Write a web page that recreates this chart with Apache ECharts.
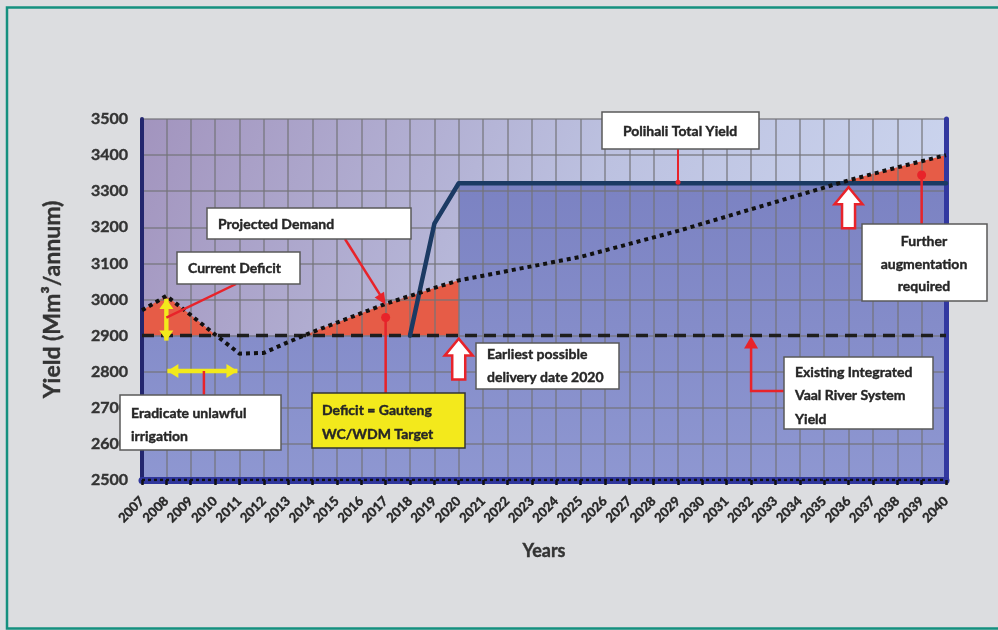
<!DOCTYPE html>
<html>
<head>
<meta charset="utf-8">
<script src="https://cdn.jsdelivr.net/npm/echarts@6/dist/echarts.min.js"></script>
<style>
  html, body { margin: 0; padding: 0; background: #dcdde0; }
  #chart { width: 998px; height: 630px; }
</style>
</head>
<body>
<div id="chart"></div>
<script>
// Years on the horizontal axis
const years = ['2007','2008','2009','2010','2011','2012','2013','2014','2015','2016','2017',
  '2018','2019','2020','2021','2022','2023','2024','2025','2026','2027','2028','2029','2030',
  '2031','2032','2033','2034','2035','2036','2037','2038','2039','2040'];

// Projected water demand (Mm3/annum), one value per year
const demand = [2970, 3010, 2957, 2903, 2850, 2852, 2882, 2910, 2936, 2962, 2988,
  3010, 3032, 3053, 3066, 3079, 3092, 3105, 3118, 3136, 3154, 3172, 3190, 3210,
  3230, 3250, 3270, 3290, 3310, 3330, 3348, 3366, 3383, 3400];

// Existing Integrated Vaal River System yield
const existingYears = ['2007', '2040'];
const existingYield = [2900, 2900];

// Polihali total yield (phased in from 2018)
const polihaliYears = ['2018', '2019', '2020', '2040'];
const polihaliYield = [2900, 3210, 3322, 3322];

// Available supply used for the shaded band (steps up when Polihali delivers)
const supplyYears = ['2007', '2020', '2020', '2040'];
const supplyYield = [2900, 2900, 3322, 3322];

// Vertical axis range
const yMin = 2500, yMax = 3500, yStep = 100;

const pairs = (xs, ys) => xs.map((x, i) => [x, ys[i]]);
const FONT = 'Lato, "Open Sans", sans-serif';
const INK = '#262626';

const chart = echarts.init(document.getElementById('chart'), null, { renderer: 'canvas' });

const option = {
  animation: false,
  backgroundColor: '#dcdde0',
  grid: {
    left: 142, right: 52, top: 119, bottom: 150,
    show: true, borderWidth: 0,
    backgroundColor: new echarts.graphic.LinearGradient(0, 0, 1, 1, [
      { offset: 0, color: '#a294be' },
      { offset: 0.5, color: '#bcc1e0' },
      { offset: 1, color: '#d0dbf3' }
    ])
  },
  xAxis: {
    type: 'category',
    data: years,
    boundaryGap: false,
    z: 2,
    name: 'Years',
    nameLocation: 'middle',
    nameGap: 62,
    nameTextStyle: { fontFamily: FONT, fontWeight: 'bold', fontSize: 18, color: '#333',
      textBorderColor: '#333', textBorderWidth: 0.4 },
    axisLine: { show: true, lineStyle: { color: '#2f369c', width: 7 } },
    axisTick: { show: true, length: 5, lineStyle: { color: '#111', width: 2.5 } },
    axisLabel: {
      rotate: 45, interval: 0, margin: 19,
      fontFamily: FONT, fontWeight: 'bold', fontSize: 13, color: INK,
      textBorderColor: INK, textBorderWidth: 0.4
    },
    splitLine: { show: true, interval: 0, lineStyle: { color: 'rgba(115,115,120,0.6)', width: 2 } }
  },
  yAxis: [{
    type: 'value',
    min: yMin, max: yMax, interval: yStep,
    z: 2,
    name: 'Yield (Mm³/annum)',
    nameLocation: 'middle',
    nameGap: 78,
    nameTextStyle: { fontFamily: FONT, fontWeight: 'bold', fontSize: 23, color: '#333',
      textBorderColor: '#333', textBorderWidth: 0.4 },
    axisLine: { show: true, lineStyle: { color: '#23266e', width: 4 } },
    axisTick: { show: false },
    axisLabel: {
      margin: 14, fontFamily: FONT, fontWeight: 'bold', fontSize: 16, color: '#333',
      textBorderColor: '#333', textBorderWidth: 0.4,
      formatter: v => String(v)
    },
    splitLine: { show: true, lineStyle: { color: 'rgba(115,115,120,0.6)', width: 2 } }
  }, {
    type: 'value',
    position: 'right',
    min: yMin, max: yMax, interval: yStep,
    z: 2,
    axisLine: { show: true, lineStyle: { color: '#3238a0', width: 5 } },
    axisTick: { show: false },
    axisLabel: { show: false },
    splitLine: { show: false }
  }],
  series: [
    {
      // deficit shading: filled under the demand curve, then covered by supply band
      name: 'Deficit',
      type: 'line',
      data: demand,
      showSymbol: false,
      z: 1,
      lineStyle: { width: 0 },
      areaStyle: { color: '#e65c47', opacity: 1, origin: 'start' }
    },
    {
      name: 'Supply',
      type: 'line',
      data: pairs(supplyYears, supplyYield),
      showSymbol: false,
      z: 1,
      lineStyle: { width: 0 },
      areaStyle: {
        opacity: 1, origin: 'start',
        color: new echarts.graphic.LinearGradient(0, 0, 0, 1, [
          { offset: 0, color: '#7b82c2' },
          { offset: 1, color: '#8e97d1' }
        ])
      }
    },
    {
      name: 'Axis base',
      type: 'line',
      data: pairs(existingYears, [yMin, yMin]),
      showSymbol: false,
      z: 5,
      lineStyle: { color: '#111', width: 2.5, type: [3, 3] }
    },
    {
      name: 'Existing Integrated Vaal River System Yield',
      type: 'line',
      data: pairs(existingYears, existingYield),
      showSymbol: false,
      z: 5,
      lineStyle: { color: '#1e1e1e', width: 3.5, type: [12, 7] }
    },
    {
      name: 'Polihali Total Yield',
      type: 'line',
      data: pairs(polihaliYears, polihaliYield),
      showSymbol: false,
      z: 6,
      lineStyle: { color: '#1b3a63', width: 4.5, cap: 'round', join: 'round' }
    },
    {
      name: 'Projected Demand',
      type: 'line',
      data: demand,
      showSymbol: false,
      z: 7,
      lineStyle: { color: '#111', width: 4, type: [4, 4] }
    }
  ]
};

chart.setOption(option);

// ---- callouts -----------------------------------------------------------
const P = (yr, v) => chart.convertToPixel({ gridIndex: 0 }, [years.indexOf(String(yr)), v]);
const demandAt = yr => demand[years.indexOf(String(yr))];
const RED = '#e8232a';
const YEL = '#f3e91c';
const els = [];

function textLine(str, x, y, align) {
  els.push({
    type: 'text', z: 30,
    style: {
      text: str, x: x, y: y, fill: INK,
      stroke: INK, lineWidth: 0.4,
      font: 'bold 14px ' + FONT,
      align: align || 'left', verticalAlign: 'middle',
      textAlign: align || 'left', textVerticalAlign: 'middle'
    }
  });
}
function box(x, y, w, h, fill, stroke) {
  els.push({
    type: 'rect', z: 29,
    shape: { x: x, y: y, width: w, height: h },
    style: { fill: fill || '#fff', stroke: stroke || '#5a5a5a', lineWidth: 1.5 }
  });
}
function redLine(points, w) {
  els.push({
    type: 'polyline', z: 28,
    shape: { points: points },
    style: { stroke: RED, lineWidth: w || 2.5, fill: null }
  });
}
function redDot(p, r) {
  els.push({ type: 'circle', z: 28, shape: { cx: p[0], cy: p[1], r: r || 4 }, style: { fill: RED } });
}
function headTo(from, tip, len, half, color) {
  const dx = tip[0] - from[0], dy = tip[1] - from[1];
  const d = Math.sqrt(dx * dx + dy * dy), ux = dx / d, uy = dy / d;
  const bx = tip[0] - ux * len, by = tip[1] - uy * len;
  els.push({
    type: 'polygon', z: 28,
    shape: { points: [tip, [bx - uy * half, by + ux * half], [bx + uy * half, by - ux * half]] },
    style: { fill: color }
  });
}
function whiteUpArrow(cx, ty) {
  const hw = 14, hh = 17, sw = 6.5, by = ty + 41;
  els.push({
    type: 'polygon', z: 28,
    shape: { points: [[cx, ty], [cx + hw, ty + hh], [cx + sw, ty + hh], [cx + sw, by],
                      [cx - sw, by], [cx - sw, ty + hh], [cx - hw, ty + hh]] },
    style: { fill: '#fff', stroke: RED, lineWidth: 2.5 }
  });
}
function yellowDouble(a, b, shaftHalf, headLen, headHalf) {
  els.push({
    type: 'line', z: 27,
    shape: { x1: a[0], y1: a[1], x2: b[0], y2: b[1] },
    style: { stroke: YEL, lineWidth: shaftHalf * 2 }
  });
  headTo(b, a, headLen, headHalf, YEL);
  headTo(a, b, headLen, headHalf, YEL);
}

// page frame
els.push({
  type: 'rect', z: 0,
  shape: { x: 7, y: 7.5, width: 1000, height: 621 },
  style: { fill: null, stroke: '#15907f', lineWidth: 2.5 }
});

// Current deficit: vertical yellow arrow between demand peak and existing yield
const peak = P(2008, demandAt(2008));
const base = P(2008, 2900);
yellowDouble([peak[0], peak[1] + 3], [base[0], base[1] + 5], 2.2, 10, 7);
const cdMid = [peak[0], (peak[1] + base[1]) / 2 + 2];
box(177, 252, 123, 32);
textLine('Current Deficit', 188, 268);
redLine([[236, 284], cdMid]);

// Eradicate unlawful irrigation: horizontal yellow arrow
const ea = P(2008, 2802), eb = P(2011, 2802);
yellowDouble([ea[0] + 1, ea[1]], [eb[0] - 2, eb[1]], 2.2, 11, 7);
const eMid = (ea[0] + eb[0]) / 2 + 1;
redLine([[eMid, 395], [eMid, ea[1]]]);
box(120, 395, 161, 55);
textLine('Eradicate unlawful', 131, 413);
textLine('irrigation', 131, 436);

// Projected demand callout
const pdTip = P(2017, demandAt(2017));
box(207, 208, 204, 31);
textLine('Projected Demand', 218, 224);
redLine([[345, 239], [pdTip[0] - 3, pdTip[1] - 5]]);
headTo([345, 239], [pdTip[0], pdTip[1] + 1], 12, 5.5, RED);

// Deficit = WC/WDM target
const defDot = P(2017, 2950);
redLine([[defDot[0], 393], defDot]);
redDot(defDot, 4.5);
box(312, 393, 153, 55, YEL, '#333');
textLine('Deficit = Gauteng', 322, 410);
textLine('WC/WDM Target', 322, 434);

// Earliest possible delivery date
const ed = P(2020, 2900);
whiteUpArrow(ed[0], ed[1] + 3);
box(476, 343, 143, 46);
textLine('Earliest possible', 487, 354);
textLine('delivery date 2020', 487, 377);

// Polihali total yield
const pol = P(2029, 3322);
box(602, 112, 157, 37);
textLine('Polihali Total Yield', 680, 131, 'center');
redLine([[pol[0], 149], [pol[0], pol[1] - 1]], 2);
redDot([pol[0], pol[1] - 1], 2.5);

// Existing Integrated Vaal River System Yield
const ex = P(2032, 2900);
redLine([[ex[0], ex[1] + 10], [ex[0], 391], [784, 391]]);
headTo([ex[0], 391], [ex[0], ex[1] + 1], 12, 7, RED);
box(784, 357, 149, 72);
textLine('Existing Integrated', 795, 372);
textLine('Vaal River System', 795, 395);
textLine('Yield', 795, 419);

// Further augmentation required
const fa = P(2036, 3322);
whiteUpArrow(fa[0], fa[1] + 4);
const faDot = P(2039, 3345);
redLine([[faDot[0], 224], faDot]);
redDot(faDot, 4.5);
box(862, 224, 125, 77);
textLine('Further', 924, 241, 'center');
textLine('augmentation', 924, 264, 'center');
textLine('required', 924, 286, 'center');

chart.setOption({ graphic: { elements: els } });
</script>
</body>
</html>
